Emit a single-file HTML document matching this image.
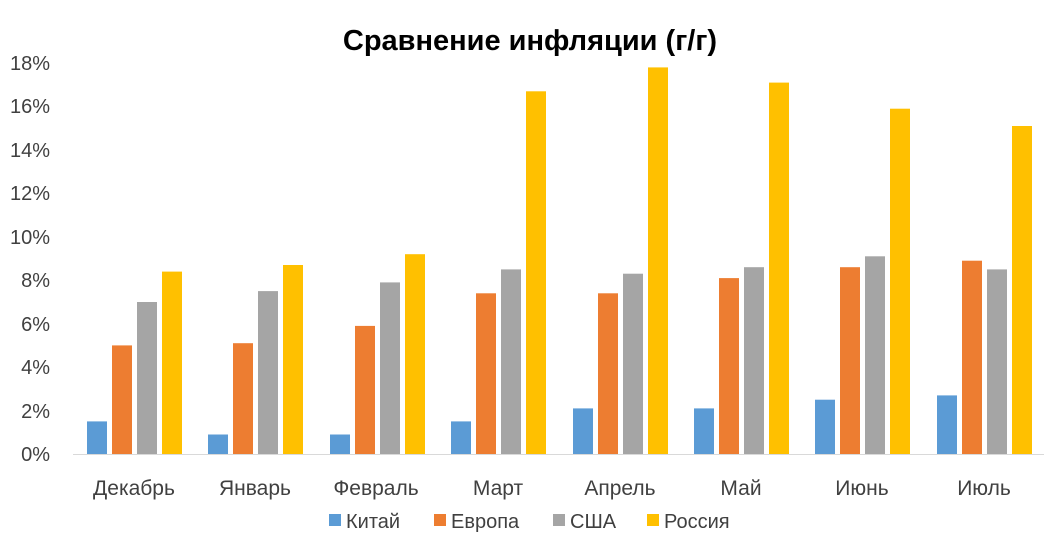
<!DOCTYPE html>
<html><head><meta charset="utf-8"><style>body{margin:0;background:#fff}svg{display:block}</style></head><body>
<svg width="1058" height="556" xmlns="http://www.w3.org/2000/svg" font-family="Liberation Sans, DejaVu Sans, sans-serif">
<rect width="1058" height="556" fill="#fff"/>
<text x="530" y="50" text-anchor="middle" font-size="29" font-weight="bold" fill="#000">Сравнение инфляции (г/г)</text>
<g font-size="20" fill="#404040" text-anchor="end">
<text x="50" y="461">0%</text><text x="50" y="418">2%</text><text x="50" y="374">4%</text><text x="50" y="331">6%</text><text x="50" y="287">8%</text><text x="50" y="244">10%</text><text x="50" y="200">12%</text><text x="50" y="157">14%</text><text x="50" y="113">16%</text><text x="50" y="70">18%</text>
</g>
<line x1="73" y1="454.5" x2="1044" y2="454.5" stroke="#d9d9d9" stroke-width="1"/>
<g fill="#5B9BD5">
<rect x="87" y="421.4" width="20" height="32.6"/><rect x="208" y="434.5" width="20" height="19.5"/><rect x="330" y="434.5" width="20" height="19.5"/><rect x="451" y="421.4" width="20" height="32.6"/><rect x="573" y="408.4" width="20" height="45.6"/><rect x="694" y="408.4" width="20" height="45.6"/><rect x="815" y="399.7" width="20" height="54.3"/><rect x="937" y="395.4" width="20" height="58.6"/>
</g>
<g fill="#ED7D31">
<rect x="112" y="345.4" width="20" height="108.6"/><rect x="233" y="343.2" width="20" height="110.8"/><rect x="355" y="325.9" width="20" height="128.1"/><rect x="476" y="293.3" width="20" height="160.7"/><rect x="598" y="293.3" width="20" height="160.7"/><rect x="719" y="278.1" width="20" height="175.9"/><rect x="840" y="267.2" width="20" height="186.8"/><rect x="962" y="260.7" width="20" height="193.3"/>
</g>
<g fill="#A5A5A5">
<rect x="137" y="302" width="20" height="152"/><rect x="258" y="291.1" width="20" height="162.9"/><rect x="380" y="282.4" width="20" height="171.6"/><rect x="501" y="269.4" width="20" height="184.6"/><rect x="623" y="273.7" width="20" height="180.3"/><rect x="744" y="267.2" width="20" height="186.8"/><rect x="865" y="256.3" width="20" height="197.7"/><rect x="987" y="269.4" width="20" height="184.6"/>
</g>
<g fill="#FFC000">
<rect x="162" y="271.6" width="20" height="182.4"/><rect x="283" y="265" width="20" height="189"/><rect x="405" y="254.2" width="20" height="199.8"/><rect x="526" y="91.3" width="20" height="362.7"/><rect x="648" y="67.4" width="20" height="386.6"/><rect x="769" y="82.6" width="20" height="371.4"/><rect x="890" y="108.7" width="20" height="345.3"/><rect x="1012" y="126" width="20" height="328"/>
</g>
<g font-size="21" fill="#404040" text-anchor="middle">
<text x="134" y="495">Декабрь</text><text x="255" y="495">Январь</text><text x="376" y="495">Февраль</text><text x="498" y="495">Март</text><text x="620" y="495">Апрель</text><text x="741" y="495">Май</text><text x="862" y="495">Июнь</text><text x="984" y="495">Июль</text>
</g>
<g font-size="20" fill="#404040">
<rect x="329" y="514" width="12" height="12" fill="#5B9BD5"/><text x="346" y="528">Китай</text>
<rect x="434" y="514" width="12" height="12" fill="#ED7D31"/><text x="451" y="528">Европа</text>
<rect x="553" y="514" width="12" height="12" fill="#A5A5A5"/><text x="570" y="528">США</text>
<rect x="647" y="514" width="12" height="12" fill="#FFC000"/><text x="664" y="528">Россия</text>
</g>
</svg>
</body></html>
